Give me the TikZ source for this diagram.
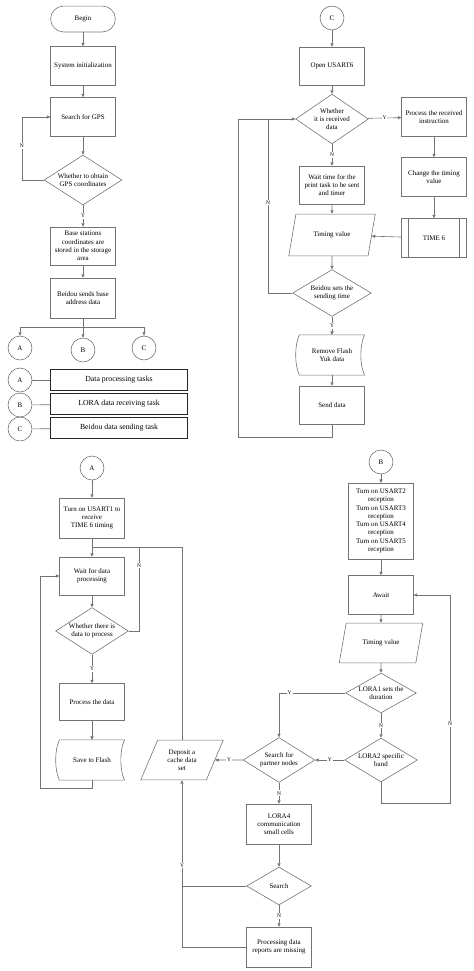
\documentclass[tikz,border=0pt]{standalone}
\usepackage{fontspec}
\setmainfont{Liberation Serif}
\usetikzlibrary{shapes.geometric,shapes.misc,arrows.meta,calc}

\tikzset{
  line/.style={draw=black!55, line width=0.6pt},
  arr/.style={line, -{Triangle[length=3.5pt,width=3.2pt]}},
  box/.style={line, rectangle, minimum width=65, minimum height=39, align=center, inner sep=1pt},
  term/.style={box, rounded corners=13pt, minimum height=26},
  decide/.style={line, diamond, aspect=1.6, align=center, inner sep=0pt},
  conn/.style={line, circle, minimum size=24, inner sep=0pt},
  io/.style={line, trapezium, trapezium left angle=65, trapezium right angle=115,
    trapezium stretches=true, minimum width=85, minimum height=41, align=center, inner sep=1pt},
  storenode/.style={minimum width=65, minimum height=40, align=center, inner sep=1pt},
  legend/.style={draw=black!85, line width=1pt, minimum width=138, minimum height=21,
    font=\fontsize{7.8}{9}\selectfont},
  yn/.style={fill=white, inner sep=1pt, font=\fontsize{5.5}{6}\selectfont},
}
\newcommand{\storeshape}[1]{\draw[line] (#1.north west) .. controls +(-5,10) and +(-5,-10) .. (#1.south west) -- (#1.south east) .. controls +(-5,-10) and +(-5,10) .. (#1.north east) -- cycle;}

\begin{document}
\begin{tikzpicture}[x=1bp,y=-1bp,font=\fontsize{7}{8.3}\selectfont]
  \useasboundingbox (0,0) rectangle (474,971);
  % main task
  \node[term] (begin) at (83,19) {Begin};
  \node[box] (init) at (83,66) {System initialization};
  \node[box] (gps) at (83,117) {Search for GPS};
  \node[decide, minimum width=78, minimum height=50] (obtain) at (83,180) {Whether to obtain\\GPS coordinates};
  \node[box, minimum height=38] (store) at (83,246) {Base stations\\coordinates are\\stored in the storage\\area};
  \node[box, minimum height=40] (sendaddr) at (83,298) {Beidou sends base\\address data};
  \node[conn] (cA) at (20,348) {A};
  \node[conn] (cB) at (83,350) {B};
  \node[conn] (cC) at (144,348) {C};
  \coordinate (split) at (83,327);
  \draw[arr] (begin) -- (init);
  \draw[arr] (init) -- (gps);
  \draw[arr] (gps) -- (obtain);
  \draw[arr] (obtain) -- node[yn] {Y} (store);
  \draw[arr] (store) -- (sendaddr);
  \draw[arr] (obtain.west) -- ++(-22,0) |- node[yn,pos=0.27] {N} (gps.west);
  \draw[line] (sendaddr) -- (split);
  \draw[arr] (split) -| (cA);
  \draw[arr] (split) -- (cB);
  \draw[arr] (split) -| (cC);
  % legend
  \node[conn] (lA) at (20,380) {A};
  \node[conn] (lB) at (20,405) {B};
  \node[conn] (lC) at (20,429) {C};
  \node[legend] (tA) at (119,380) {Data processing tasks};
  \node[legend] (tB) at (119,404) {LORA data receiving task};
  \node[legend] (tC) at (119,428) {Beidou data sending task};
  \draw[line] (lA) -- (tA);
  \draw[line] (lB) -- (tB);
  \draw[line] (lC) -- (tC);

  % task C
  \node[conn] (startC) at (332,18) {C};
  \node[box, minimum height=38] (usart6) at (332,66) {Open USART6};
  \node[decide, minimum width=73, minimum height=50] (recv) at (332,119) {Whether\\it is received\\data};
  \node[box] (proc) at (434,117) {Process the received\\instruction};
  \node[box] (change) at (434,177) {Change the timing\\value};
  \node[box] (time6) at (434,238) {TIME 6};
  \node[box, minimum height=38] (waitsend) at (332,185) {Wait time for the\\print task to be sent\\and timer};
  \node[io, minimum width=87, minimum height=42] (tval) at (332,235) {Timing value};
  \node[decide, minimum width=79, minimum height=47] (setsend) at (332,293) {Beidou sets the\\sending time};
  \node[storenode] (remove) at (332,355) {Remove Flash\\Yuk data};
  \node[box, minimum height=38] (senddata) at (332,405) {Send data};
  \storeshape{remove}
  \draw[line] ([xshift=7]time6.north west) -- ([xshift=7]time6.south west);
  \draw[line] ([xshift=-7]time6.north east) -- ([xshift=-7]time6.south east);
  \coordinate (loopC) at (238,437);
  \coordinate (joinC) at (268,119);
  \draw[arr] (startC) -- (usart6);
  \draw[arr] (usart6) -- (recv);
  \draw[arr] (recv) -- node[yn] {Y} (proc);
  \draw[arr] (recv) -- node[yn] {N} (waitsend);
  \draw[arr] (proc) -- (change);
  \draw[arr] (change) -- (time6);
  \draw[arr] (time6) -- (tval);
  \draw[arr] (waitsend) -- (tval);
  \draw[arr] (tval) -- (setsend);
  \draw[arr] (setsend) -- node[yn] {Y} (remove);
  \draw[arr] (remove) -- (senddata);
  \draw[arr] (senddata) |- (loopC) |- (recv.west);
  \draw[line] (setsend.west) -| node[yn,pos=0.76] {N} (joinC);

  % task A
  \node[conn] (startA) at (92,468) {A};
  \node[box, minimum height=40] (usart1) at (92,518) {Turn on USART1 to\\receive\\TIME 6 timing};
  \node[box, minimum height=38] (waitdp) at (92,576) {Wait for data\\processing};
  \node[decide, minimum width=73, minimum height=47] (there) at (92,631) {Whether there is\\data to process};
  \node[box, minimum height=37] (procd) at (92,702) {Process the data};
  \node[storenode] (save) at (92,760) {Save to Flash};
  \node[io, minimum width=83, minimum height=40] (deposit) at (182,760) {Deposit a\\cache data\\set};
  \storeshape{save}
  \coordinate (joinA) at (92,547);
  \coordinate (nA) at (139,547);
  \coordinate (loopA) at (40,788);
  \draw[arr] (startA) -- (usart1);
  \draw[arr] (usart1) -- (waitdp);
  \draw[arr] (waitdp) -- (there);
  \draw[arr] (there) -- node[yn] {Y} (procd);
  \draw[arr] (procd) -- (save);
  \draw[arr] (save) |- (loopA) |- (waitdp.west);
  \draw[line] (there.east) -| node[yn,pos=0.89] {N} (nA);
  \draw[line] (deposit.north) |- (joinA);

  % task B
  \node[conn] (startB) at (381,462) {B};
  \node[box, minimum height=76] (usart25) at (381,521) {Turn on USART2\\reception\\Turn on USART3\\reception\\Turn on USART4\\reception\\Turn on USART5\\reception};
  \node[box] (await) at (381,595) {Await};
  \node[io, minimum width=84, minimum height=40] (tval2) at (381,643) {Timing value};
  \node[decide, aspect=1.9, minimum width=71, minimum height=40] (lora1) at (381,693) {LORA1 sets the\\duration};
  \node[decide, minimum width=73, minimum height=44] (lora2) at (381,760) {LORA2 specific\\band};
  \node[decide, minimum width=72, minimum height=45] (partner) at (279,760) {Search for\\partner nodes};
  \node[box, minimum height=40] (lora4) at (279,824) {LORA4\\communication\\small cells};
  \node[decide, minimum width=65, minimum height=38] (search) at (279,886) {Search};
  \node[box, minimum height=40] (missing) at (279,947) {Processing data\\reports are missing};
  \coordinate (loopB) at (450,803);
  \draw[arr] (startB) -- (usart25);
  \draw[arr] (usart25) -- (await);
  \draw[arr] (await) -- (tval2);
  \draw[arr] (tval2) -- (lora1);
  \draw[arr] (lora1) -- node[yn] {N} (lora2);
  \draw[arr] (lora1.west) -| node[yn,pos=0.42] {Y} (partner.north);
  \draw[arr] (lora2) -- node[yn] {Y} (partner);
  \draw[arr] (lora2) |- (loopB) |- node[yn,pos=0.19] {N} (await.east);
  \draw[arr] (partner) -- node[yn] {Y} (deposit);
  \draw[arr] (partner) -- node[yn] {N} (lora4);
  \draw[arr] (lora4) -- (search);
  \draw[arr] (search) -- node[yn] {N} (missing);
  \draw[line] (search.west) -- (search.west -| deposit.south);
  \draw[arr] (missing.west) -| node[yn,pos=0.745] {Y} (deposit.south);
\end{tikzpicture}
\end{document}
